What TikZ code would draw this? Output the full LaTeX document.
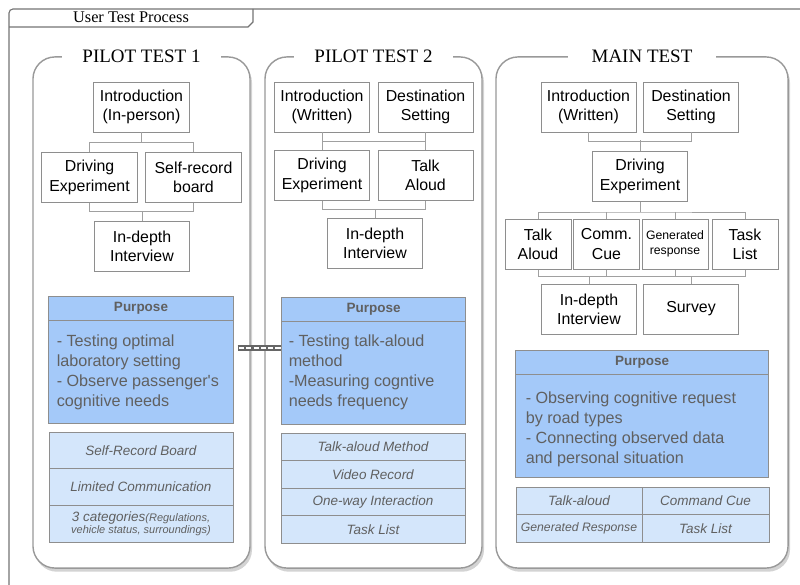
\documentclass[tikz,border=0pt]{standalone}
\usepackage{fontspec}
\setmainfont{Liberation Serif}
\setsansfont{Liberation Sans}
\usetikzlibrary{calc,shadows}

\definecolor{linegray}{HTML}{A0A0A0}
\definecolor{boxgray}{HTML}{8E8E8E}
\definecolor{purposeblue}{HTML}{A4C9F9}
\definecolor{listblue}{HTML}{D4E6FB}
\definecolor{textgray}{HTML}{606060}

\begin{document}
\begin{tikzpicture}[
    x=0.025cm, y=-0.025cm,
    frame/.style={draw=black!55, line width=0.8pt},
    panel/.style={
        rectangle,
        rounded corners=0.55cm,
        draw=black!40,
        line width=1pt,
        fill=white,
        drop shadow={shadow xshift=1.4pt, shadow yshift=-2.6pt, opacity=0.35},
        minimum width=#1,
        minimum height=12.775cm
    },
    paneltitle/.style={
        fill=white,
        inner xsep=0.5cm,
        inner ysep=1pt,
        font=\fontsize{13.5}{16}\selectfont
    },
    stepbox/.style={
        rectangle,
        draw=boxgray,
        line width=0.7pt,
        fill=white,
        minimum width=#1,
        minimum height=1.25cm,
        inner sep=0pt,
        align=center,
        font=\sffamily\fontsize{11.3}{13.7}\selectfont
    },
    stepbox/.default=2.375cm,
    link/.style={draw=linegray, line width=0.7pt},
    purpose/.style={
        rectangle,
        draw=boxgray,
        line width=0.7pt,
        fill=purposeblue,
        minimum width=#1,
        minimum height=3.15cm,
        inner sep=0pt
    },
    purposehead/.style={
        font=\sffamily\bfseries\fontsize{9.6}{11}\selectfont,
        text=textgray
    },
    purposebody/.style={
        anchor=west,
        align=left,
        inner sep=0pt,
        font=\sffamily\fontsize{11.5}{14.2}\selectfont,
        text=textgray
    },
    itemrow/.style 2 args={
        rectangle,
        draw=boxgray,
        line width=0.6pt,
        fill=listblue,
        minimum width=#1,
        minimum height=#2,
        inner sep=0pt,
        align=center,
        font=\sffamily\itshape\fontsize{9.6}{10}\selectfont,
        text=textgray
    },
    chain/.style={
        draw=black!60,
        line width=4.2pt,
        postaction={draw=white, line width=1.6pt, dash pattern=on 3.6pt off 1.6pt, dash phase=-1pt}
    }
]
\useasboundingbox (0,0) rectangle (800,584);
\clip (0,0) rectangle (800,584);

% Outer frame
\draw[frame, rounded corners=0.1cm] (9,600) -- (9,9) -- (820,9);
\draw[frame] (9,27) -- (248,27) -- (253,22) -- (253,9);
\node[anchor=base, font=\fontsize{11.6}{14}\selectfont] (frametitle) at (131,23) {User Test Process};

% Panels
\node[panel=5.425cm] (pan1) at (141.5,312.5) {};
\node[panel=5.425cm] (pan2) at (373.5,312.5) {};
\node[panel=7.3cm] (pan3) at (642,312.5) {};
\node[paneltitle] (title1) at (pan1.north) {PILOT TEST 1};
\node[paneltitle] (title2) at (pan2.north) {PILOT TEST 2};
\node[paneltitle, inner xsep=0.6cm] (title3) at (pan3.north) {MAIN TEST};

% Pilot test 1 steps
\node[stepbox] (intro1) at (141.5,107) {Introduction\\(In-person)};
\node[stepbox] (drive1) at (89.5,177.5) {Driving\\Experiment};
\node[stepbox] (self1) at (193.5,177.5) {Self-record\\board};
\node[stepbox] (inter1) at (142,246) {In-depth\\Interview};
\draw[link] (intro1.south) -- ++(0,10) coordinate (bus1);
\draw[link] (drive1.north) |- (bus1) -| (self1.north);
\draw[link] (drive1.south) -- ++(0,8) -| (self1.south);
\draw[link] (inter1.north) -- ++(0,-10);

% Pilot test 2 steps
\node[stepbox] (intro2) at (322,107) {Introduction\\(Written)};
\node[stepbox] (dest2) at (425.5,107) {Destination\\Setting};
\node[stepbox] (drive2) at (322,175.5) {Driving\\Experiment};
\node[stepbox] (talk2) at (425.5,175.5) {Talk\\Aloud};
\node[stepbox] (inter2) at (375,243) {In-depth\\Interview};
\draw[link] (intro2.south) -- (drive2.north);
\draw[link] (dest2.south) -- (talk2.north);
\draw[link] (intro2.south) ++(0,9) -| (dest2.south);
\draw[link] (drive2.south) -- ++(0,8) -| (talk2.south);
\draw[link] (inter2.north) -- ++(0,-9);

% Main test steps
\node[stepbox] (intro3) at (588.5,107) {Introduction\\(Written)};
\node[stepbox] (dest3) at (691,107) {Destination\\Setting};
\node[stepbox] (drive3) at (640,176.5) {Driving\\Experiment};
\node[stepbox=1.65cm] (talk3) at (538,244) {Talk\\Aloud};
\node[stepbox=1.65cm] (cue3) at (606.5,244) {Comm.\\Cue};
\node[stepbox=1.65cm, font=\sffamily\fontsize{8.7}{10.8}\selectfont] (gen3) at (675,244) {Generated\\response};
\node[stepbox=1.65cm] (task3) at (745,244) {Task\\List};
\node[stepbox] (inter3) at (589,309) {In-depth\\Interview};
\node[stepbox] (survey3) at (691,309) {Survey};
\draw[link] (intro3.south) -- ++(0,9) -| (dest3.south);
\draw[link] (drive3.north) -- ++(0,-11);
\draw[link] (drive3.south) -- ++(0,10) coordinate (bus3);
\draw[link] (talk3.north) |- (bus3) -| (task3.north);
\draw[link] (cue3.north) -- (cue3.north |- bus3);
\draw[link] (gen3.north) -- (gen3.north |- bus3);
\draw[link] (talk3.south) -- ++(0,7) -| (task3.south);
\draw[link] (cue3.south) -- ++(0,7);
\draw[link] (gen3.south) -- ++(0,7);
\draw[link] (inter3.north) -- ++(0,-8);
\draw[link] (survey3.north) -- ++(0,-8);

% Purpose boxes
\node[purpose=4.6cm] (pur1) at (141,360) {};
\node[purpose=4.575cm] (pur2) at (373.5,361) {};
\node[purpose=6.3cm] (pur3) at (642,414) {};
\foreach \p in {pur1,pur2,pur3} {
    \node[purposehead] at ($(\p.north)+(0,12)$) {Purpose};
    \draw[draw=boxgray, line width=0.6pt] ($(\p.north west)+(0,24)$) -- ($(\p.north east)+(0,24)$);
}
\node[purposebody] (body1) at ($(pur1.west)+(8,12)$) {- Testing optimal\\laboratory setting\\- Observe passenger\textquotesingle s\\cognitive needs};
\node[purposebody] (body2) at ($(pur2.west)+(7,11)$) {- Testing talk-aloud\\method\\-Measuring cogntive\\needs frequency};
\node[purposebody] (body3) at ($(pur3.west)+(10,15)$) {- Observing cognitive request\\by road types\\- Connecting observed data\\and personal situation};

% Link between pilot tests
\draw[chain] ($(pur1.east)+(4,-12)$) -- ($(pur2.west)+(0,-13)$);

% Method lists
\node[itemrow={4.6cm}{0.9167cm}] (list1a) at (141,450.3) {Self-Record Board};
\node[itemrow={4.6cm}{0.9167cm}] (list1b) at (141,487) {Limited Communication};
\node[itemrow={4.6cm}{0.9167cm}] (list1c) at (141,523.7) {3 categories{\fontsize{7.8}{9}\selectfont(Regulations,}\\[-1pt]{\fontsize{7.8}{9}\selectfont vehicle status, surroundings)}};
\foreach \txt [count=\i] in {Talk-aloud Method, Video Record, One-way Interaction, Task List}
    \node[itemrow={4.6cm}{0.6875cm}] (list2-\i) at (373,{419.25+27.5*\i}) {\txt};
\node[itemrow={3.15cm}{0.6875cm}] (list3a) at (579,500.75) {Talk-aloud};
\node[itemrow={3.175cm}{0.6875cm}] (list3b) at (705.5,500.75) {Command Cue};
\node[itemrow={3.15cm}{0.6875cm}, font=\sffamily\itshape\fontsize{8.7}{10}\selectfont] (list3c) at (579,528.25) {Generated Response};
\node[itemrow={3.175cm}{0.6875cm}] (list3d) at (705.5,528.25) {Task List};

\end{tikzpicture}
\end{document}
